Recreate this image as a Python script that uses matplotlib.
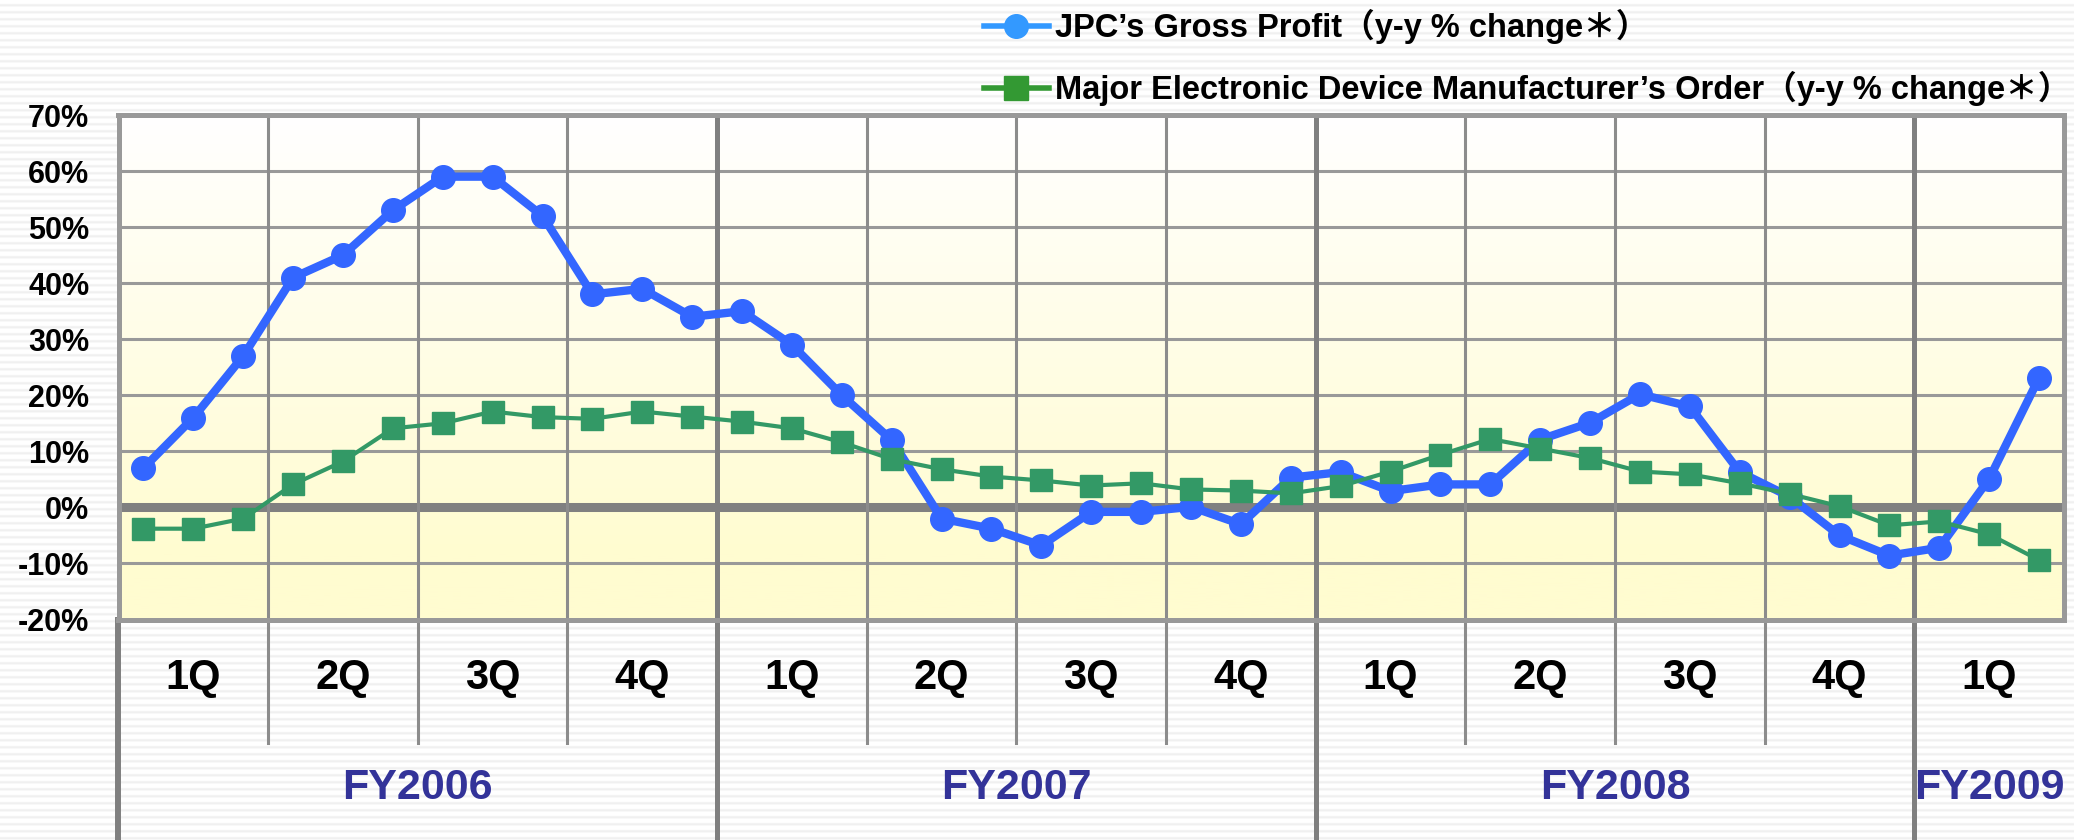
import numpy as np
import matplotlib.pyplot as plt
from matplotlib.lines import Line2D
from matplotlib.colors import to_rgb

plt.rcParams['font.family'] = ['Liberation Sans', 'Noto Sans CJK JP', 'DejaVu Sans']
plt.rcParams['font.weight'] = 'bold'

# monthly y-y % change, FY2006 Apr .. FY2009 Jun
gross_profit = [7.0, 16.0, 27.0, 41.0, 45.0, 53.0, 59.0, 59.0, 52.0, 38.0, 39.0, 34.0,
                35.0, 29.0, 20.0, 12.0, -2.0, -3.8, -6.8, -0.8, -0.8, 0.1, -3.0, 5.3,
                6.3, 2.9, 4.1, 4.1, 12.1, 15.1, 20.2, 18.0, 6.3, 1.9, -5.0, -8.6,
                -7.2, 5.1, 23.1]
device_orders = [-3.8, -3.8, -2.0, 4.1, 8.2, 14.1, 15.0, 17.1, 16.1, 15.8, 17.1, 16.2,
                 15.3, 14.1, 11.6, 8.6, 6.8, 5.5, 4.8, 3.9, 4.3, 3.2, 3.0, 2.5,
                 3.8, 6.4, 9.4, 12.2, 10.5, 8.8, 6.4, 5.9, 4.3, 2.4, 0.2, -3.2,
                 -2.5, -4.8, -9.4]
quarter_labels = ['1Q', '2Q', '3Q', '4Q'] * 3 + ['1Q']
fiscal_years = ['FY2006', 'FY2007', 'FY2008', 'FY2009']
quarters_per_year = [4, 4, 4, 1]
yticks = [-20, -10, 0, 10, 20, 30, 40, 50, 60, 70]
legend_labels = ['JPC\u2019s Gross Profit\uff08y-y % change\uff0a\uff09',
                 'Major Electronic Device Manufacturer\u2019s Order\uff08y-y % change\uff0a\uff09']

W, H = 2074, 840
fig = plt.figure(figsize=(W / 100, H / 100), dpi=100)

# striped slide background
bg = fig.add_axes([0, 0, 1, 1], zorder=-5)
stripe = np.tile([1.0, 1.0, 1.0, 0.99, 0.955, 0.94, 0.97], H // 7 + 1)[:H]
bg.imshow(stripe[:, None], cmap='gray', vmin=0, vmax=1, aspect='auto',
          interpolation='nearest', extent=[0, 1, 0, 1])
bg.axis('off')

ax = fig.add_axes([118.5 / W, 1 - 619.5 / H, (2064 - 118.5) / W, (619.5 - 115) / H], zorder=1)
n = len(gross_profit)
x = np.arange(n)
ax.set_xlim(-0.5, n - 0.5)
ax.set_ylim(yticks[0], yticks[-1])

# white -> light yellow gradient in plot area
t = np.linspace(0, 1, 256)[:, None]
top, bot = np.array(to_rgb('#ffffff')), np.array(to_rgb('#fffcd0'))
grad = top + (bot - top) * np.clip(t * 1.15, 0, 1)[..., None]
ax.imshow(grad, extent=[0, 1, 0, 1], transform=ax.transAxes, aspect='auto', zorder=0)

ax.set_yticks(yticks)
ax.set_yticklabels([f'{v}%' for v in yticks], fontsize=22, fontweight='bold')
ax.set_xticks([])
ax.tick_params(axis='y', length=0, pad=21)
ax.yaxis.grid(True, color='#999999', lw=2.2, zorder=1)
ax.set_axisbelow(True)
for s in ax.spines.values():
    s.set_color('#999999')
    s.set_linewidth(3.6)
ax.axhline(0, color='#808080', lw=6.5, zorder=2)

# quarter / fiscal year table lines
xt = ax.get_xaxis_transform()
q_edges = np.cumsum([3] * len(quarter_labels)) - 0.5
fy_edges = np.cumsum([3 * q for q in quarters_per_year]) - 0.5
for e in q_edges[:-1]:
    if e in fy_edges:
        ax.plot([e, e], [-0.437, 1], transform=xt, color='#808080', lw=3.6, clip_on=False, zorder=2)
    else:
        ax.plot([e, e], [-0.245, 1], transform=xt, color='#8c8c8c', lw=2.2, clip_on=False, zorder=2)
ax.plot([-0.5, -0.5], [-0.437, 0], transform=xt, color='#808080', lw=4.3, clip_on=False, zorder=2)

for i, lab in enumerate(quarter_labels):
    ax.text(3 * i + 1, -0.116, lab, transform=xt, ha='center', va='center',
            fontsize=30, fontweight='bold', color='black')
starts = np.concatenate([[-0.5], fy_edges[:-1]])
for s0, s1, lab in zip(starts, fy_edges, fiscal_years):
    ax.text((s0 + s1) / 2, -0.334, lab, transform=xt, ha='center', va='center',
            fontsize=31, fontweight='bold', color='#333399')

ax.plot(x, gross_profit, color='#3366ff', lw=6, marker='o', markersize=17, zorder=4)
ax.plot(x, device_orders, color='#339966', lw=3, marker='s', markersize=16, zorder=5)

# legend (drawn as a separate picture in the source slide)
legend_style = [('#3399ff', 'o'), ('#339933', 's')]
for i, (lab, (c, m)) in enumerate(zip(legend_labels, legend_style)):
    y = 1 - (26 + 62 * i) / H
    fig.add_artist(Line2D([984 / W, 1049 / W], [y, y], transform=fig.transFigure, color=c, lw=4))
    fig.add_artist(Line2D([1016 / W], [y], transform=fig.transFigure, color=c, marker=m,
                          markersize=17, lw=0))
    fig.text(1055 / W, y, lab, ha='left', va='center', fontsize=23.5, fontweight='bold')

fig.savefig('out.png', dpi=100)
